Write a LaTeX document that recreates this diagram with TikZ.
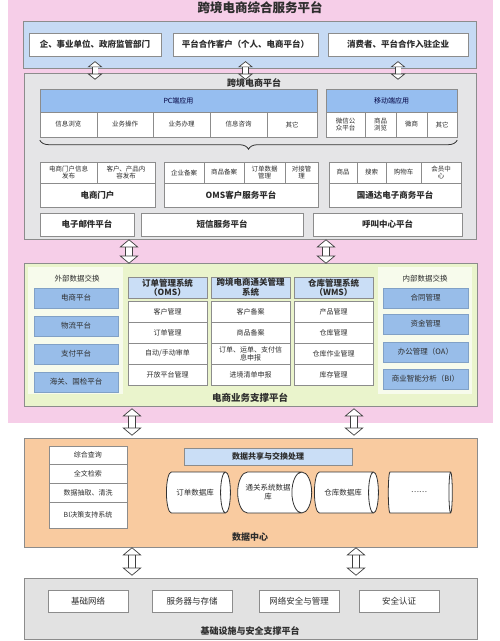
\documentclass[tikz,border=0pt]{standalone}
\usepackage{fontspec}
\setmainfont{Noto Sans CJK SC}
\usepackage{xcolor}
\usepackage{tikz}
\usetikzlibrary{arrows.meta,shapes.geometric,decorations.pathreplacing,calc}
\definecolor{pkbg}{RGB}{246,206,232}
\definecolor{usblue}{RGB}{198,218,244}
\definecolor{pfgray}{RGB}{229,229,231}
\definecolor{pcblue}{RGB}{150,190,240}
\definecolor{spgreen}{RGB}{234,244,204}
\definecolor{exwhite}{RGB}{247,251,236}
\definecolor{sysblue}{RGB}{202,222,246}
\definecolor{itblue}{RGB}{152,189,233}
\definecolor{dcorange}{RGB}{249,203,160}
\definecolor{infgray}{RGB}{226,226,226}
\definecolor{lgray}{RGB}{140,140,140}
\definecolor{txt}{RGB}{45,45,45}
\tikzset{
  lay/.style={draw=lgray, line width=0.6pt, inner sep=0pt},
  ubox/.style={draw=lgray, fill=white, inner sep=1pt, font=\bfseries\fontsize{8.5}{10}\selectfont, text=txt},
  hdr/.style={draw=lgray, fill=pcblue, inner sep=1pt, font=\fontsize{7}{8}\selectfont, text=black!75!blue},
  cell/.style={draw=lgray, fill=white, inner sep=1pt, align=center, font=\fontsize{6.5}{7.5}\selectfont, text=txt},
  cellb/.style={cell, font=\bfseries\fontsize{8.5}{10}\selectfont},
  syshd/.style={cell, fill=sysblue, font=\bfseries\fontsize{8.5}{9.5}\selectfont},
  ttl/.style={font=\bfseries\fontsize{9}{10}\selectfont, text=txt},
  lbl/.style={font=\fontsize{7.5}{9}\selectfont, text=txt},
  item/.style={draw=itblue!85!black, fill=itblue, line width=0.4pt, inner sep=1pt, font=\fontsize{7.5}{9}\selectfont, text=txt},
  dbcyl/.style={cylinder, draw=black!80, line width=0.8pt, fill=white, aspect=1.1, inner sep=1pt, align=center, font=\fontsize{7.5}{9}\selectfont, text=txt},
  brc/.style={decorate, decoration={brace, mirror, amplitude=9pt}, draw=black!80, line width=0.8pt},
  dbl/.style={double=white, double distance=6pt, line width=0.7pt, draw=black!75,
    {Triangle[length=8pt, width=19pt, line width=0.7pt, fill=white]}-{Triangle[length=8pt, width=19pt, line width=0.7pt, fill=white]}},
  dbls/.style={dbl, double distance=5pt,
    {Triangle[length=6pt, width=15pt, line width=0.7pt, fill=white]}-{Triangle[length=6pt, width=15pt, line width=0.7pt, fill=white]}},
}
% box from corner (x1,y1) to corner (x2,y2)
\newcommand\tile[7][cell]{%
  \node[#1, minimum width={(#5)-(#3)}, minimum height={(#6)-(#4)}] (#2) at ({(#3+#5)/2},{(#4+#6)/2}) {#7};}

\begin{document}
\begin{tikzpicture}[x=1pt,y=-1pt]
  \useasboundingbox (0,0) rectangle (500,641);
  \fill[pkbg] (8,0) rectangle (493,423);
  \node[font=\bfseries\fontsize{12.5}{14}\selectfont, text=txt] (title) at (260,8) {跨境电商综合服务平台};

  % users
  \tile[lay, fill=usblue]{usr}{23}{21}{476}{68}{}
  \tile[ubox]{u1}{29}{33}{161}{56}{企、事业单位、政府监管部门}
  \tile[ubox]{u2}{173}{33}{318}{56}{平台合作客户（个人、电商平台）}
  \tile[ubox]{u3}{328}{33}{468}{56}{消费者、平台合作入驻企业}

  % cross-border platform
  \tile[lay, fill=pfgray]{ecp}{24}{73}{476}{239}{}
  \node[ttl] (ecpt) at (254,83) {跨境电商平台};
  \tile[hdr]{pch}{40}{89}{317}{112}{PC端应用}
  \tile[hdr]{mbh}{326}{89}{457}{112}{移动端应用}
  \foreach \i/\a/\b/\t in {1/40/97/信息浏览, 2/97/153/业务操作, 3/153/210/业务办理, 4/210/267/信息咨询, 5/267/317/其它}
    \tile{pc\i}{\a}{112}{\b}{137}{\t};
  \foreach \i/\a/\b/\t in {1/326/365/{微信公\\众平台}, 2/365/396/{商品\\浏览}, 3/396/427/微商, 4/427/457/其它}
    \tile{mb\i}{\a}{112}{\b}{137}{\t};
  \draw[brc] ([yshift=-3pt]pc1.south west) -- ([yshift=-3pt]mb4.south east);

  \foreach \i/\a/\b/\t in {1/40/97/{电商门户信息\\发布}, 2/97/155/{客户、产品内\\容发布}}
    \tile{pt\i}{\a}{162}{\b}{183}{\t};
  \tile[cellb]{por}{40}{183}{155}{207}{电商门户}
  \foreach \i/\a/\b/\t in {1/164/204/企业备案, 2/204/244/商品备案, 3/244/285/{订单数据\\管理}, 4/285/318/{对接管\\理}}
    \tile{om\i}{\a}{162}{\b}{183}{\t};
  \tile[cellb]{oms}{164}{183}{318}{207}{OMS客户服务平台}
  \foreach \i/\a/\b/\t in {1/329/357/商品, 2/357/386/搜索, 3/386/421/购物车, 4/421/461/{会员中\\心}}
    \tile{gt\i}{\a}{162}{\b}{183}{\t};
  \tile[cellb]{gtd}{329}{183}{461}{207}{国通达电子商务平台}
  \tile[cellb]{eml}{40}{213}{134}{236}{电子邮件平台}
  \tile[cellb]{sms}{141}{213}{303}{236}{短信服务平台}
  \tile[cellb]{call}{313}{213}{462}{236}{呼叫中心平台}

  % support platform
  \tile[lay, fill=spgreen]{sup}{24}{263}{477}{406}{}
  \node[ttl, font=\bfseries\fontsize{9.5}{10}\selectfont] (supt) at (250,398) {电商业务支撑平台};
  \fill[exwhite] (28,267) rectangle (123,394);
  \fill[exwhite] (378,267) rectangle (472,394);
  \node[lbl] (exlt) at (77,279) {外部数据交换};
  \node[lbl] (exrt) at (425,279) {内部数据交换};
  \foreach \i/\a/\t in {1/288/电商平台, 2/316/物流平台, 3/344/支付平台, 4/372/海关、国检平台}
    \tile[item]{ex\i}{34}{\a}{118}{\a+20}{\t};
  \foreach \i/\a/\t in {1/288/合同管理, 2/314/资金管理, 3/342/办公管理（OA）, 4/369/商业智能分析（BI）}
    \tile[item]{in\i}{383}{\a}{468}{\a+20}{\t};
  \tile[syshd]{sh1}{128}{277}{207}{298}{订单管理系统\\（OMS）}
  \tile[syshd]{sh2}{211}{277}{290}{298}{跨境电商通关管理\\系统}
  \tile[syshd]{sh3}{294}{277}{373}{298}{仓库管理系统\\（WMS）}
  \foreach \j/\t in {1/客户管理, 2/订单管理, 3/{自动/手动审单}, 4/开放平台管理}
    \tile[cell, font=\fontsize{7}{8}\selectfont]{sa\j}{128}{280+21*\j}{207}{301+21*\j}{\t};
  \foreach \j/\t in {1/客户备案, 2/商品备案, 3/{订单、运单、支付信\\息申报}, 4/进境清单申报}
    \tile[cell, font=\fontsize{7}{8}\selectfont]{sb\j}{211}{280+21*\j}{290}{301+21*\j}{\t};
  \foreach \j/\t in {1/产品管理, 2/仓库管理, 3/仓库作业管理, 4/库存管理}
    \tile[cell, font=\fontsize{7}{8}\selectfont]{sc\j}{294}{280+21*\j}{373}{301+21*\j}{\t};

  % data center
  \tile[lay, fill=dcorange]{dc}{24}{438}{477}{547}{}
  \node[ttl] (dct) at (250,537) {数据中心};
  \foreach \i/\a/\b/\t in {1/446/464/综合查询, 2/464/483/全文检索, 3/483/502/数据抽取、清洗, 4/502/528/BI决策支持系统}
    \tile[cell, font=\fontsize{7}{8}\selectfont]{dl\i}{49}{\a}{127}{\b}{\t};
  \tile[cell, fill=sysblue, font=\bfseries\fontsize{8}{9}\selectfont]{shr}{184}{448}{352}{465}{数据共享与交换处理}
  \foreach \i/\a/\t in {1/163/订单数据库, 2/236/{通关系统数据\\库}, 3/311/仓库数据库, 4/387/……}
    \node[dbcyl, minimum height=64pt, minimum width=41pt] (db\i) at (\a+32,492.5) {\t};

  % infrastructure
  \tile[lay, fill=infgray]{inf}{24}{578}{477}{639}{}
  \node[ttl] (inft) at (250,631) {基础设施与安全支撑平台};
  \foreach \i/\a/\t in {1/48/基础网络, 2/152/服务器与存储, 3/259/网络安全与管理, 4/359/安全认证}
    \tile[cell, font=\fontsize{8.5}{9}\selectfont]{bs\i}{\a}{590}{\a+80}{612}{\t};

  % links between layers
  \draw[dbls] ([yshift=-5pt]u1.south) -- ([yshift=-7pt]u1.south |- ecp.north);
  \draw[dbls] ([yshift=-5pt]u2.south) -- ([yshift=-7pt]u2.south |- ecp.north);
  \draw[dbls] ([yshift=-5pt]u3.south) -- ([yshift=-7pt]u3.south |- ecp.north);
  \draw[dbl] ([xshift=-121pt]ecp.south) -- ([xshift=-121.5pt,yshift=-1pt]sup.north);
  \draw[dbl] ([xshift=76pt]ecp.south) -- ([xshift=75.5pt,yshift=-1pt]sup.north);
  \draw[dbl] ([xshift=-118.5pt,yshift=-2pt]sup.south) -- ([xshift=-118.5pt,yshift=2pt]dc.north);
  \draw[dbl] ([xshift=103.5pt,yshift=-2pt]sup.south) -- ([xshift=103.5pt,yshift=2pt]dc.north);
  \draw[dbl] ([xshift=-118.5pt]dc.south) -- ([xshift=-118.5pt,yshift=2pt]inf.north);
  \draw[dbl] ([xshift=105.5pt]dc.south) -- ([xshift=105.5pt,yshift=2pt]inf.north);
\end{tikzpicture}
\end{document}
